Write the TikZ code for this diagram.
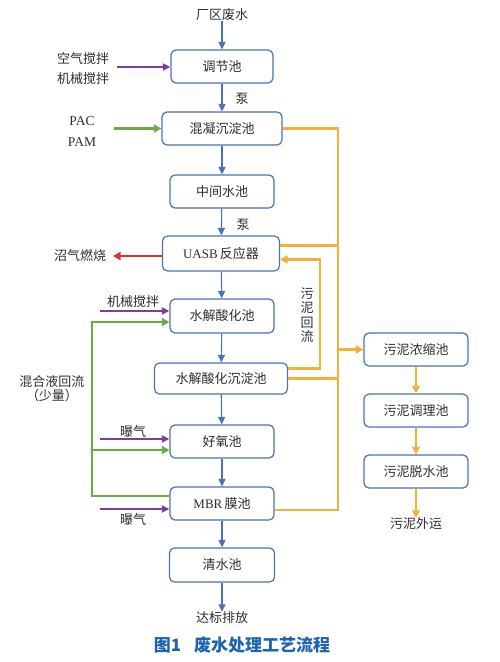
\documentclass[tikz,border=0pt]{standalone}
\usepackage{fontspec}
\setmainfont{Liberation Serif}
\newfontfamily\cjk{Noto Sans CJK SC}
\usetikzlibrary{arrows.meta}
\definecolor{boxblue}{HTML}{4A72B8}
\definecolor{arrblue}{HTML}{4A72B8}
\definecolor{purp}{HTML}{7B3FA0}
\definecolor{grn}{HTML}{6EAA44}
\definecolor{orng}{HTML}{F6B03A}
\definecolor{redc}{HTML}{E0322B}
\definecolor{txt}{HTML}{2E2E2E}
\definecolor{capblue}{HTML}{1E63AE}
\begin{document}
\begin{tikzpicture}[x=1pt,y=-1pt,
  every node/.style={text=txt,font=\cjk\fontsize{13}{15}\selectfont,inner sep=0pt},
  box/.style={draw=boxblue,line width=1.2pt,rounded corners=5pt,fill=white,minimum width=104,minimum height=33},
  tip/.style={-{Triangle[length=7.5pt,width=7pt]}},
  bline/.style={tip,draw=arrblue,line width=1.1pt},
  pline/.style={tip,draw=purp,line width=2.2pt},
  gline/.style={draw=grn,line width=2.8pt},
  garr/.style={gline,-{Triangle[length=7.5pt,width=8pt]}},
  oline/.style={draw=orng,line width=2.2pt},
  oarr/.style={oline,-{Triangle[length=7.5pt,width=8pt]}},
  rarr/.style={draw=redc,line width=2.2pt,-{Triangle[length=7.5pt,width=8pt]}},
  lat/.style={font=\rmfamily\fontsize{13.5}{15}\selectfont}
]
\useasboundingbox (0,0) rectangle (499,662);
% main column
\node (s) at (222,15) {厂区废水};
\node[box,minimum width=102] (t1) at (222,66.5) {调节池};
\node[box,minimum width=120] (t2) at (222,128.5) {混凝沉淀池};
\node[box] (t3) at (222,191.5) {中间水池};
\node[box,minimum width=117,minimum height=35] (t4) at (221,253.5) {{\rmfamily UASB}\,反应器};
\node[box,minimum height=34] (t5) at (222,316) {水解酸化池};
\node[box,minimum width=133,minimum height=31] (t6) at (221,378.5) {水解酸化沉淀池};
\node[box] (t7) at (222,441.5) {好氧池};
\node[box] (t8) at (222,503.5) {{\rmfamily MBR}\,膜池};
\node[box,minimum width=105,minimum height=34] (t9) at (222,565) {清水池};
\node (e) at (222,618) {达标排放};
% sludge column
\node[box] (r1) at (416,349.5) {污泥浓缩池};
\node[box] (r2) at (416,410.5) {污泥调理池};
\node[box] (r3) at (416,471.5) {污泥脱水池};
\node (re) at (416,524) {污泥外运};
% labels
\node (a1) at (83,59) {空气搅拌};
\node (a2) at (83,79) {机械搅拌};
\node[lat] (p1) at (82,121) {PAC};
\node[lat] (p2) at (82,142) {PAM};
\node (b1) at (242,99) {泵};
\node (b2) at (243,225) {泵};
\node (z) at (80,256) {沼气燃烧};
\node (m1) at (133,302) {机械搅拌};
\node (q1) at (133,432) {曝气};
\node (q2) at (133,520) {曝气};
\node (h1) at (52,382) {混合液回流};
\node (h2) at (52,396) {（少量）};
\node[align=center,font=\cjk\fontsize{13}{14.5}\selectfont] (w) at (307,315) {污\\泥\\回\\流};
\node[font=\cjk\bfseries\fontsize{17}{18}\selectfont,text=capblue] (cap) at (242,645) {图1\hspace{13pt}废水处理工艺流程};
% coordinates
\coordinate (ca1) at (117,67);
\coordinate (cp) at (114,128.5);
\coordinate (cz) at (113,256);
\coordinate (cm1) at (100,311);
\coordinate (cq1) at (100,439);
\coordinate (cq2) at (100,509);
\coordinate (g5) at (92,322);
\coordinate (g7) at (92,450);
\coordinate (j8) at (338,510);
\coordinate (j4) at (338,245.5);
\coordinate (rt) at (320,259.5);
% blue flow
\draw[bline] (s) -- (t1);
\draw[bline] (t1) -- (t2);
\draw[bline] (t2) -- (t3);
\draw[bline] (t3) -- (t4);
\draw[bline] (t4) -- (t5);
\draw[bline] (t5) -- (t6);
\draw[bline] (t6) -- (t7);
\draw[bline] (t7) -- (t8);
\draw[bline] (t8) -- (t9);
\draw[bline] (t9) -- (e);
% inputs
\draw[pline] (ca1) -- (ca1 -| t1.west);
\draw[garr] (cp) -- (t2.west);
\draw[rarr] (t4.west |- cz) -- (cz);
\draw[pline] (cm1) -- (cm1 -| t5.west);
\draw[pline] (cq1) -- (cq1 -| t7.west);
\draw[pline] (cq2) -- (cq2 -| t8.west);
% green mixed liquor return
\draw[garr] ([yshift=7.5pt]t8.west) -| (g5) -- (g5 -| t5.west);
\draw[garr] (g7) -- (g7 -| t7.west);
% orange sludge lines
\draw[oline] (t2.east) -| (j8) -- (j8 -| t8.east);
\draw[oline] (j4 -| t4.east) -- (j4);
\draw[oline] (t6.east) -- (t6.east -| j8);
\draw[oarr] (r1.west -| j8) -- (r1.west);
\draw[oarr] ([yshift=10pt]t6.east) -| (rt) -- (rt -| t4.east);
\draw[oarr] (r1) -- (r2);
\draw[oarr] (r2) -- (r3);
\draw[oarr] (r3) -- (re);
\end{tikzpicture}
\end{document}
